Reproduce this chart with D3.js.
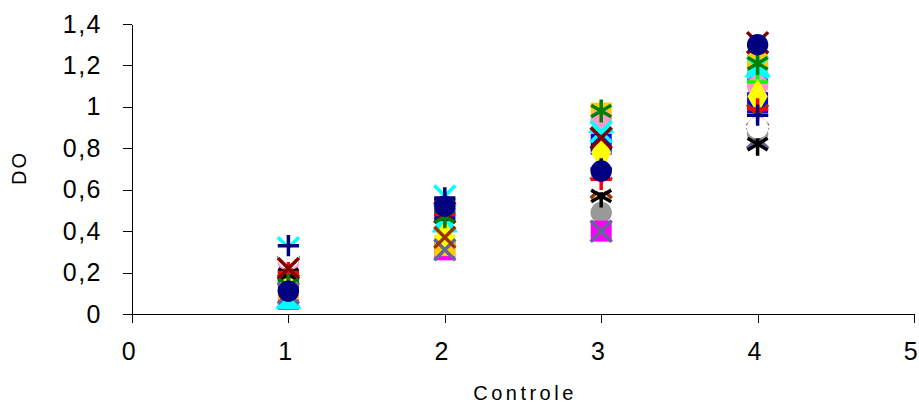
<!DOCTYPE html>
<html>
<head>
<meta charset="utf-8">
<script src="https://cdn.jsdelivr.net/npm/d3@7"></script>
<style>
  body { margin: 0; background: #fff; }
  svg { display: block; font-family: "Liberation Sans", Arial, sans-serif; }
  .axis path, .axis line { stroke: #000; stroke-width: 1px; shape-rendering: crispEdges; }
  .axis text { fill: #000; font-size: 25px; letter-spacing: 1.5px; }
</style>
</head>
<body>
<svg width="919" height="405"></svg>
<script>
// x positions (Controle)
let xValues = [1, 2, 3, 4];
let xTicks = [0, 1, 2, 3, 4, 5];
let yTicks = [0, 0.2, 0.4, 0.6, 0.8, 1, 1.2, 1.4];
let yTickLabels = ['0', '0,2', '0,4', '0,6', '0,8', '1', '1,2', '1,4'];

// series: values read at x = 1, 2, 3, 4
let greyCircle = [0.17, 0.34, 0.49, 0.87];
let magentaSquare = [0.07, 0.31, 0.40, 1.17];
let yellowSquare = [0.12, 0.33, 0.97, 1.21];
let cyanTriangle = [0.06, 0.43, 0.91, 1.18];
let pinkCircle = [0.25, 0.50, 0.94, 1.10];
let limePlus = [0.15, 0.46, 0.80, 1.12];
let blueSquare = [0.16, 0.50, 0.82, 1.02];
let yellowDiamond = [0.16, 0.37, 0.78, 1.05];
let cyanCross = [0.32, 0.57, 0.88, 1.19];
let slateCross = [0.10, 0.31, 0.40, 0.85];
let brownCross = [0.23, 0.37, 0.61, 0.96];
let blackStar = [0.19, 0.53, 0.57, 0.82];
let whiteCircle = [0.27, 0.52, 0.64, 0.90];
let redPlus = [0.20, 0.48, 0.65, 0.99];
let darkRedCross = [0.22, 0.49, 0.85, 1.31];
let greenStar = [0.14, 0.47, 0.98, 1.21];
let navyPlus = [0.33, 0.56, 0.70, 0.96];
let navyCircle = [0.11, 0.52, 0.69, 1.30];

let seriesList = [
    {values: greyCircle, shape: 'circle', color: '#999999'},
    {values: magentaSquare, shape: 'square', color: '#FF00FF'},
    {values: yellowSquare, shape: 'square', color: '#FFCC00'},
    {values: cyanTriangle, shape: 'triangle', color: '#00FFFF'},
    {values: pinkCircle, shape: 'circle', color: '#FF99CC'},
    {values: limePlus, shape: 'plus', color: '#00FF00'},
    {values: blueSquare, shape: 'square', color: '#0000FF'},
    {values: yellowDiamond, shape: 'diamond', color: '#FFFF00'},
    {values: cyanCross, shape: 'x', color: '#00FFFF'},
    {values: slateCross, shape: 'x', color: '#666699'},
    {values: brownCross, shape: 'x', color: '#993300'},
    {values: blackStar, shape: 'star', color: '#000000'},
    {values: whiteCircle, shape: 'circle', color: '#FFFFFF'},
    {values: redPlus, shape: 'plus', color: '#FF0000'},
    {values: darkRedCross, shape: 'x', color: '#800000'},
    {values: greenStar, shape: 'star', color: '#008000'},
    {values: navyPlus, shape: 'plus', color: '#000080'},
    {values: navyCircle, shape: 'circle', color: '#000080'}
];

let svg = d3.select('svg');
svg.append('rect').attr('width', 919).attr('height', 405).attr('fill', '#fff');

let xScale = d3.scaleLinear().domain([0, 5]).range([132, 914]);
let yScale = d3.scaleLinear().domain([0, 1.4]).range([314, 24]);

svg.append('g')
    .attr('class', 'axis')
    .attr('transform', 'translate(0, 314)')
    .call(d3.axisBottom(xScale).tickValues(xTicks).tickSize(9).tickPadding(19)
        .tickSizeOuter(0).tickFormat(d3.format('d')))
    .selectAll('text')
    .attr('dx', -3);

svg.append('g')
    .attr('class', 'axis')
    .attr('transform', 'translate(132, 0)')
    .call(d3.axisLeft(yScale).tickValues(yTicks).tickSize(9).tickPadding(21)
        .tickSizeOuter(0).tickFormat((d, i) => yTickLabels[i]));

let symbolFor = {
    circle: d3.symbol(d3.symbolCircle, 360),
    square: d3.symbol(d3.symbolSquare, 440),
    diamond: d3.symbol(d3.symbolDiamond, 360),
    triangle: d3.symbol(d3.symbolTriangle, 300),
    plus: d3.symbol(d3.symbolPlus, 150),
    x: d3.symbol(d3.symbolTimes, 290),
    star: d3.symbol(d3.symbolAsterisk, 380)
};
let strokeShapes = ['plus', 'x', 'star'];

let marks = svg.append('g');
seriesList.forEach(function (s) {
    let isStroke = strokeShapes.includes(s.shape);
    marks.append('g').selectAll('path')
        .data(s.values)
        .enter()
        .append('path')
        .attr('transform', (v, i) => `translate(${xScale(xValues[i])}, ${yScale(v)})`)
        .attr('d', symbolFor[s.shape])
        .attr('fill', isStroke ? 'none' : s.color)
        .attr('stroke', isStroke ? s.color : 'none')
        .attr('stroke-width', isStroke ? 3.5 : 0);
});

svg.append('text')
    .attr('x', 525)
    .attr('y', 400)
    .attr('text-anchor', 'middle')
    .style('font-size', '20px')
    .style('letter-spacing', '3.5px')
    .text('Controle');

svg.append('text')
    .attr('transform', 'translate(26, 168) rotate(-90)')
    .attr('text-anchor', 'middle')
    .style('font-size', '20px')
    .style('letter-spacing', '2px')
    .text('DO');
</script>
</body>
</html>
